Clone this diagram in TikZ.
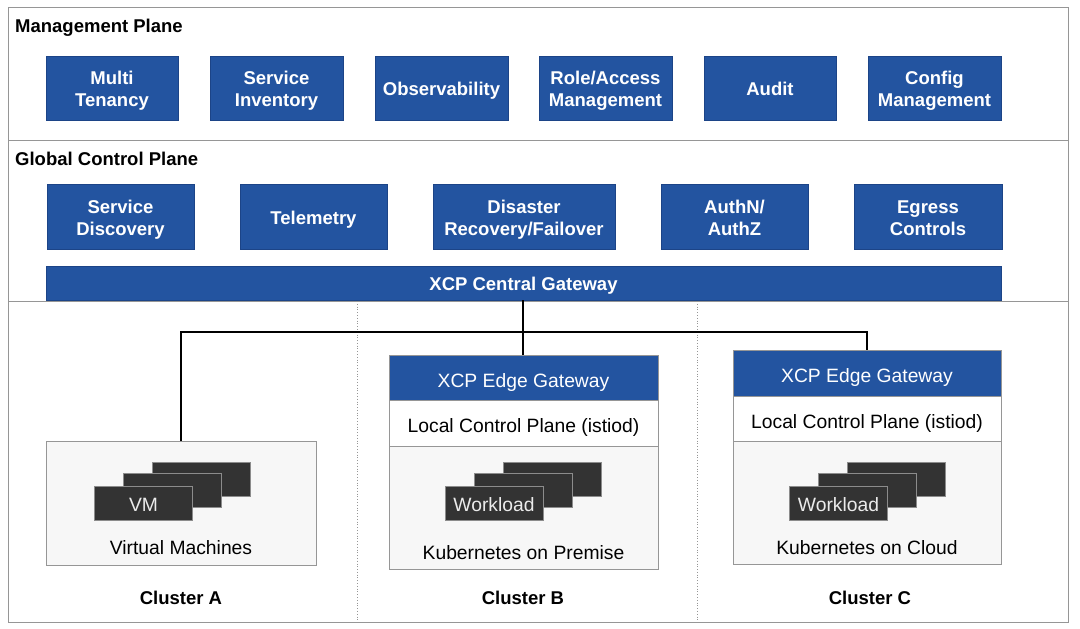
\documentclass[tikz,border=0pt]{standalone}
\usepackage{fontspec}
\setmainfont{Liberation Sans}
\definecolor{xblue}{RGB}{35,84,160}
\definecolor{xblueline}{RGB}{28,68,135}
\definecolor{frameg}{RGB}{150,150,150}
\definecolor{panelg}{RGB}{247,247,247}
\definecolor{darkbox}{RGB}{51,51,51}
\definecolor{darkline}{RGB}{140,140,140}
\definecolor{lighttext}{RGB}{235,235,235}
% struts that centre the capitals (slightly low) in boxes
\newcommand\tsA{\rule{0pt}{1.05em}}
\newcommand\bsA{\rule[-0.21em]{0pt}{0.21em}}
\newcommand\tsB{\rule{0pt}{1.2em}}
\begin{document}
\begin{tikzpicture}[x=1bp,y=-1bp,
  txt/.style={font=\fontsize{19.3bp}{22bp}\selectfont},
  btxt/.style={font=\fontsize{18.5bp}{22bp}\selectfont\bfseries},
  bluebox/.style={btxt, fill=xblue, draw=xblueline, line width=0.6bp, text=white, align=center, inner sep=0pt, minimum height=64bp},
  secline/.style={draw=frameg, line width=1bp},
  divline/.style={draw=frameg, line width=0.8bp, dotted},
  conn/.style={draw=black, line width=1.8bp},
  panel/.style={fill=panelg, draw=frameg, line width=0.8bp, inner sep=0pt},
  lcp/.style={txt, fill=white, draw=frameg, line width=0.8bp, inner sep=0pt, minimum width=269bp},
  edgehead/.style={txt, fill=xblue, draw=frameg, line width=0.8bp, text=white, inner sep=0pt, minimum width=269bp},
  stackbox/.style={txt, fill=darkbox, draw=darkline, line width=0.8bp, text=lighttext, inner sep=0pt, minimum width=98bp, minimum height=34bp},
  lbl/.style={btxt, inner sep=0pt, anchor=base west},
  clbl/.style={btxt, inner sep=0pt}
]
\useasboundingbox (0,0) rectangle (1080,629);
\fill[white] (0,0) rectangle (1080,629);
% frame and sections
\draw[secline] (8,8) rectangle (1068,622);
\draw[secline] (8,141) -- (1068,141);
\draw[secline] (8,301) -- (1068,301);
\draw[divline] (357,301) -- (357,622);
\draw[divline] (697,301) -- (697,622);

% Management plane
\node[lbl] (mplbl) at (15,33) {Management Plane};
\node[bluebox, minimum width=132bp] (mt) at (112,88) {\tsA Multi\\Tenancy\bsA};
\node[bluebox, minimum width=133bp] (si) at (276.5,88) {\tsA Service\\Inventory\bsA};
\node[bluebox, minimum width=133bp] (ob) at (441.5,88) {\tsA Observability\bsA};
\node[bluebox, minimum width=133bp] (ra) at (605.5,88) {\tsA Role/Access\\Management\bsA};
\node[bluebox, minimum width=132bp] (au) at (770,88) {\tsA Audit\bsA};
\node[bluebox, minimum width=133bp] (cm) at (934.5,88) {\tsA Config\\Management\bsA};

% Global control plane
\node[lbl] (gclbl) at (15,166) {Global Control Plane};
\node[bluebox, minimum width=147bp, minimum height=65bp] (sd) at (120.5,216.5) {\tsA Service\\Discovery\bsA};
\node[bluebox, minimum width=147bp, minimum height=65bp] (te) at (313.5,216.5) {\tsA Telemetry\bsA};
\node[bluebox, minimum width=182bp, minimum height=65bp] (dr) at (524,216.5) {\tsA Disaster\\Recovery/Failover\bsA};
\node[bluebox, minimum width=147bp, minimum height=65bp] (az) at (734.5,216.5) {\tsA AuthN/\\AuthZ\bsA};
\node[bluebox, minimum width=148bp, minimum height=65bp] (eg) at (928,216.5) {\tsA Egress\\Controls\bsA};
\node[bluebox, minimum width=955bp, minimum height=34bp] (cgw) at (523.5,283) {\tsA XCP Central Gateway\bsA};

% Cluster A
\node[panel, minimum width=270bp, minimum height=124bp] (vmbox) at (181,503) {};
\node[stackbox] (vmback) at (201.5,479) {};
\node[stackbox] (vmmid) at (172.5,490.5) {};
\node[stackbox] (vmfront) at (143.5,503) {\tsA VM\bsA};
\node[txt, inner sep=0pt] (vmtxt) at (181,548) {Virtual Machines};
\node[clbl] (cla) at (181,598) {Cluster A};

% Cluster B
\node[edgehead, minimum height=45bp] (edgeB) at (523.5,377.5) {\tsB XCP Edge Gateway\bsA};
\node[lcp, minimum height=46bp] (lcpB) at (523.5,423) {\tsB Local Control Plane (istiod)\bsA};
\node[panel, minimum width=269bp, minimum height=123bp] (kB) at (523.5,507.5) {};
\node[stackbox] (wbback) at (552,479) {};
\node[stackbox] (wbmid) at (523,490.5) {};
\node[stackbox] (wbfront) at (494,503) {\tsA Workload\bsA};
\node[txt, inner sep=0pt] (kBtxt) at (523.5,553) {Kubernetes on Premise};
\node[clbl] (clb) at (523,598) {Cluster B};

% Cluster C
\node[edgehead, minimum height=46bp, minimum width=268bp] (edgeC) at (867,373) {\tsB XCP Edge Gateway\bsA};
\node[lcp, minimum height=45bp, minimum width=268bp] (lcpC) at (867,418.5) {\tsB Local Control Plane (istiod)\bsA};
\node[panel, minimum width=268bp, minimum height=123bp] (kC) at (867,502.5) {};
\node[stackbox] (wcback) at (896.5,479) {};
\node[stackbox] (wcmid) at (867.5,490.5) {};
\node[stackbox] (wcfront) at (838.5,503) {\tsA Workload\bsA};
\node[txt, inner sep=0pt] (kCtxt) at (867,548) {Kubernetes on Cloud};
\node[clbl] (clc) at (870,598) {Cluster C};

% connectors
\coordinate (bus) at (523,332);
\draw[conn] (cgw.south -| bus) -- (edgeB.north -| bus);
\draw[conn] (vmbox.north) |- (bus) -| (edgeC.north);
\end{tikzpicture}
\end{document}
